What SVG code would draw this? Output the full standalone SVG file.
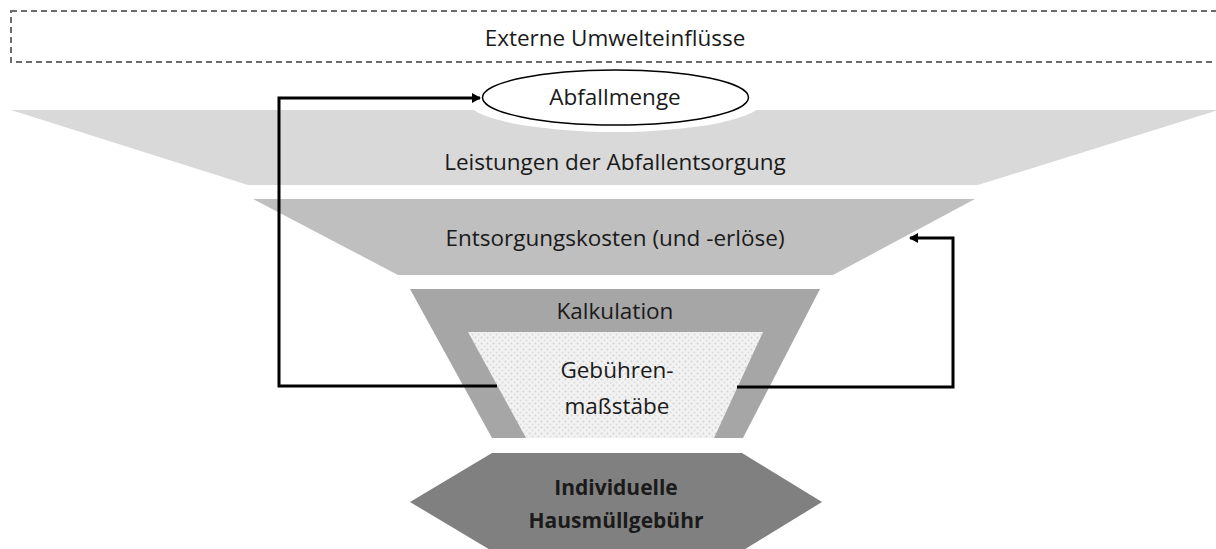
<svg xmlns="http://www.w3.org/2000/svg" width="1216" height="549" viewBox="0 0 1216 549">
<style>
text{font-family:"Open Sans","Liberation Sans",sans-serif;fill:#1a1a1a;text-anchor:middle;font-size:22.5px}
.b{font-weight:bold;font-size:21px}
.conn{fill:none;stroke:#000;stroke-width:3}
</style>
<defs>
<pattern id="dots" width="6" height="6" patternUnits="userSpaceOnUse">
<rect width="6" height="6" fill="#f2f2f2"/>
<circle cx="1.5" cy="1.5" r="1" fill="#d2d2d2"/>
<circle cx="4.5" cy="4.5" r="1" fill="#dcdcdc"/>
</pattern>
<marker id="arr" markerWidth="10" markerHeight="10" refX="8" refY="5" orient="auto" markerUnits="userSpaceOnUse">
<path d="M0,0 L9,5 L0,10 z" fill="#000"/>
</marker>
</defs>
<g id="umwelt">
<rect x="11" y="11" width="1215" height="51" fill="none" stroke="#6b6b6b" stroke-width="2" stroke-dasharray="6,4"/>
<text x="615" y="46">Externe Umwelteinflüsse</text>
</g>
<g id="leistungen">
<polygon points="11,110 1218,110 978,185 248,185" fill="#d9d9d9"/>
<ellipse cx="615" cy="100" rx="149" ry="32" fill="#fff"/>
<text x="615" y="170">Leistungen der Abfallentsorgung</text>
</g>
<g id="abfallmenge">
<ellipse cx="615.5" cy="97.5" rx="133" ry="27.5" fill="#fff" stroke="#000" stroke-width="1.5"/>
<text x="615" y="105">Abfallmenge</text>
</g>
<g id="kosten">
<polygon points="253,199 975,199 833,275 398,275" fill="#bfbfbf"/>
<text x="615" y="246">Entsorgungskosten (und -erlöse)</text>
</g>
<g id="kalkulation">
<polygon points="410,289 820,289 743,438 492,438" fill="#a6a6a6"/>
<text x="615" y="319">Kalkulation</text>
</g>
<g id="massstaebe">
<polygon points="468,332 763,332 714,438 526,438" fill="url(#dots)"/>
<text x="617" y="378">Gebühren-</text>
<text x="617" y="414">maßstäbe</text>
</g>
<g id="gebuehr">
<polygon points="492,453 742,453 822,502 742,551 492,551 410,502" fill="#808080"/>
<text class="b" x="616" y="495">Individuelle</text>
<text class="b" x="616" y="528">Hausmüllgebühr</text>
</g>
<g id="connectors">
<polyline class="conn" points="497,386 279,386 279,98 480,98" marker-end="url(#arr)"/>
<polyline class="conn" points="737,387 953,387 953,238 910,238" marker-end="url(#arr)"/>
</g>
</svg>
